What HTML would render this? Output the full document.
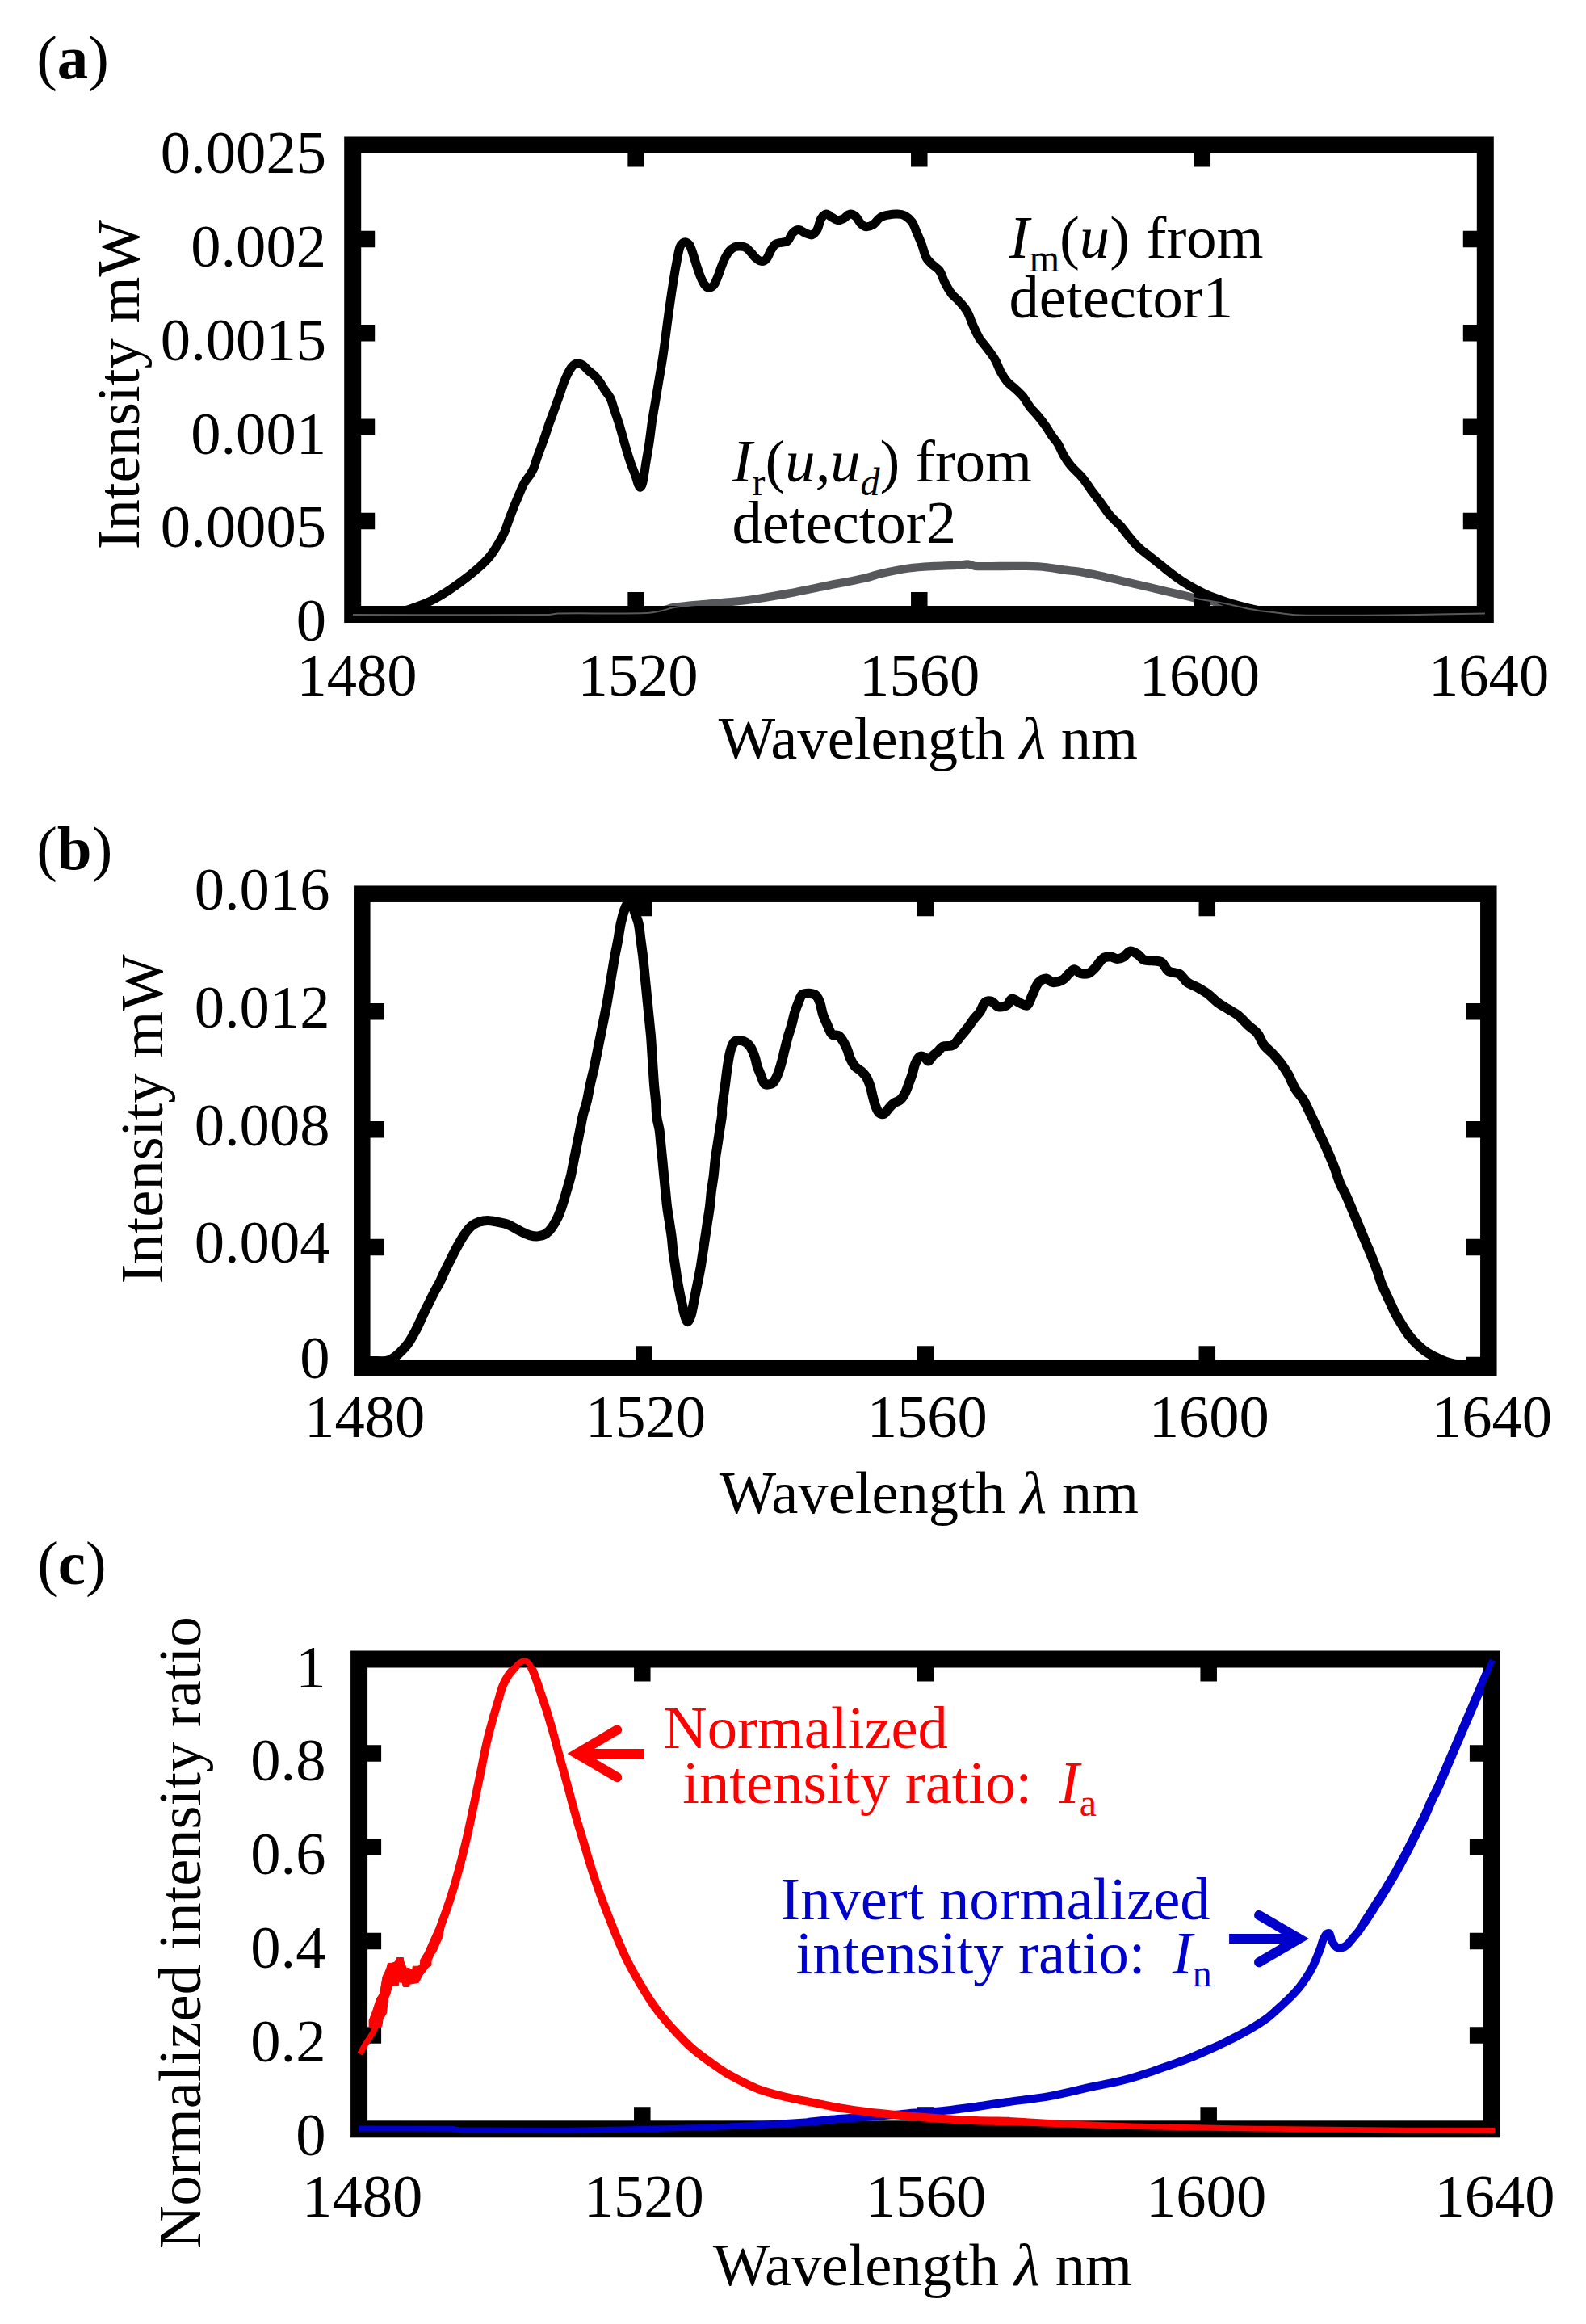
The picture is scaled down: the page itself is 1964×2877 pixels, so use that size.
<!DOCTYPE html>
<html lang="en"><head><meta charset="utf-8"><title>Figure</title>
<style>html,body{margin:0;padding:0;background:#fff}svg{display:block}text{font-family:"Liberation Serif","Times New Roman",serif;fill:#000}.i{font-style:italic}.b{font-weight:bold}</style>
</head><body>
<svg width="1964" height="2877" viewBox="0 0 1964 2877">
<rect width="1964" height="2877" fill="#fff"/>
<g id="panel-a">
<path d="M437.0 761.1C518.0 761.1 599.0 761.6 680.0 761.1C683.4 761.1 686.6 759.6 690.0 759.5C726.6 758.9 763.4 760.0 800.0 759.0C806.7 758.8 813.4 757.4 820.0 756.0C824.9 755.0 829.6 752.6 834.6 751.9C850.2 749.7 866.1 748.8 881.9 747.2C897.6 745.6 913.5 744.6 929.2 742.5C945.0 740.3 960.7 737.5 976.4 734.6C992.3 731.7 1008.0 728.3 1023.7 725.1C1039.5 722.0 1055.3 719.2 1071.0 715.7C1077.9 714.1 1084.6 711.5 1091.5 710.0C1102.7 707.5 1113.9 705.1 1125.2 703.5C1135.6 702.1 1146.2 701.6 1156.7 701.0C1167.2 700.4 1177.8 700.4 1188.3 699.7C1191.7 699.5 1195.1 698.1 1198.4 698.3C1201.4 698.5 1204.2 700.6 1207.2 700.8C1218.0 701.5 1229.1 700.9 1240.0 701.0C1255.4 701.1 1270.8 700.3 1286.1 701.3C1298.8 702.1 1311.3 704.7 1323.9 706.3C1329.3 707.0 1334.7 707.4 1340.0 708.3C1347.0 709.5 1353.9 711.0 1360.8 712.5C1367.8 714.0 1374.7 715.7 1381.6 717.3C1388.6 718.9 1395.5 720.6 1402.4 722.2C1409.4 723.8 1416.3 725.4 1423.2 727.0C1430.2 728.7 1437.1 730.3 1444.0 731.9C1451.0 733.5 1457.9 735.1 1464.8 736.7C1469.5 737.9 1474.1 739.2 1478.7 740.2C1483.3 741.3 1487.9 742.2 1492.6 743.0C1499.5 744.2 1506.5 745.1 1513.4 746.5C1520.4 747.8 1527.3 749.4 1534.2 750.9C1538.8 751.9 1543.4 753.1 1548.1 754.1C1552.0 754.9 1556.0 755.6 1560.0 756.2C1566.2 757.0 1572.5 757.6 1578.7 758.3C1587.1 759.3 1595.5 760.8 1604.0 761.2C1619.3 762.0 1634.7 761.8 1650.0 761.8C1673.3 761.9 1696.7 761.7 1720.0 761.5C1740.0 761.3 1760.0 760.8 1780.0 760.5C1799.7 760.2 1819.3 759.8 1839.0 759.5" fill="none" stroke="#57585b" stroke-width="10.3" stroke-linejoin="round"/>
<path d="M437.0 761.0C448.0 761.0 459.1 761.7 470.0 761.0C479.0 760.4 487.9 758.9 496.7 757.0C503.2 755.6 509.5 753.5 515.7 751.3C522.1 749.0 528.5 746.4 534.6 743.4C541.1 740.1 547.4 736.3 553.5 732.4C560.0 728.3 566.2 723.8 572.4 719.2C578.9 714.3 585.3 709.4 591.3 704.0C596.6 699.3 601.9 694.4 606.4 688.9C610.8 683.7 614.2 677.7 617.8 671.9C620.1 668.1 622.3 664.1 624.1 660.1C626.6 654.5 628.3 648.7 630.4 643.0C632.5 637.5 634.6 632.1 636.7 626.6C638.8 621.6 640.9 616.5 643.1 611.5C645.1 606.8 646.9 602.0 649.4 597.6C651.1 594.5 653.7 591.8 655.7 588.8C657.5 586.0 659.4 583.1 660.7 580.0C662.3 576.3 663.2 572.4 664.5 568.6C666.1 564.0 667.9 559.4 669.5 554.8C671.2 550.1 673.0 545.5 674.6 540.9C676.3 535.9 677.9 530.8 679.6 525.8C681.2 521.1 683.0 516.5 684.7 511.9C686.3 507.3 688.1 502.6 689.7 498.0C691.2 493.8 692.7 489.6 694.1 485.4C695.6 481.2 696.9 476.9 698.5 472.8C699.9 469.4 701.3 466.0 703.0 462.7C704.3 460.1 705.6 457.5 707.4 455.1C708.6 453.5 710.0 451.7 711.8 450.7C713.2 449.9 715.2 449.6 716.8 449.8C718.8 450.2 720.8 451.4 722.5 452.6C724.8 454.4 726.6 456.9 728.8 458.9C731.2 461.1 734.1 462.9 736.4 465.2C738.7 467.5 740.8 470.1 742.7 472.8C745.0 476.0 746.8 479.6 749.0 482.9C751.2 486.3 754.1 489.3 755.9 493.0C757.8 496.8 758.6 501.1 760.0 505.1C762.4 512.2 764.9 519.2 767.1 526.3C769.6 534.5 771.7 542.8 774.1 551.0C776.4 558.7 778.6 566.4 781.2 573.9C783.0 579.3 785.4 584.4 787.3 589.8C788.5 593.0 789.0 596.4 790.3 599.5C790.9 600.9 792.2 603.4 793.0 603.2C794.0 602.9 795.3 599.7 795.8 597.7C797.6 589.9 798.4 581.8 799.7 573.9C801.1 565.1 802.8 556.3 804.1 547.5C805.4 538.7 806.3 529.8 807.6 521.0C808.9 512.2 810.6 503.4 812.0 494.6C813.5 485.7 815.0 476.9 816.4 468.1C817.9 459.3 819.5 450.5 820.8 441.6C822.2 432.8 823.2 424.0 824.4 415.2C825.5 406.4 826.7 397.5 827.9 388.7C829.0 380.5 830.2 372.3 831.4 364.0C832.6 356.4 833.7 348.7 835.0 341.1C836.0 334.6 837.2 328.2 838.5 321.7C839.5 316.4 840.3 310.9 842.0 305.8C842.6 304.0 844.0 302.0 845.5 300.9C846.7 300.1 848.7 299.7 849.9 300.2C851.6 300.8 853.4 302.4 854.4 304.1C856.4 307.8 857.4 312.3 858.8 316.4C860.3 321.1 861.6 325.9 863.2 330.5C864.6 334.7 865.9 338.8 867.6 342.9C868.8 345.9 870.1 349.1 872.0 351.7C873.3 353.5 875.3 356.0 877.3 356.3C879.2 356.6 882.1 355.1 883.5 353.5C885.9 350.6 887.2 346.5 888.7 342.9C890.4 338.9 891.6 334.6 893.2 330.5C894.5 327.0 895.9 323.4 897.6 319.9C899.1 316.9 900.6 313.7 902.9 311.1C904.8 309.0 907.3 307.0 909.9 305.8C912.0 304.9 914.6 304.8 917.0 305.0C919.3 305.1 922.0 305.5 924.0 306.7C926.4 308.2 928.2 310.8 930.2 312.9C932.3 315.2 934.0 318.0 936.4 319.9C938.4 321.6 941.1 323.5 943.4 323.5C945.5 323.5 948.1 321.7 949.6 319.9C951.6 317.6 952.3 314.0 954.0 311.1C955.8 308.1 957.6 304.8 960.0 302.3C960.9 301.3 962.6 301.2 963.9 300.9C967.7 299.9 972.4 300.4 975.3 298.4C978.3 296.2 978.9 291.0 981.6 288.3C983.5 286.4 986.6 284.4 989.2 284.5C992.1 284.6 994.9 287.6 998.0 288.8C1000.4 289.7 1003.4 291.5 1005.5 290.8C1008.0 290.0 1010.4 287.0 1011.9 284.5C1014.2 280.3 1014.5 274.7 1016.9 270.6C1018.3 268.3 1020.9 265.3 1023.2 265.1C1025.6 264.9 1028.2 268.0 1030.8 269.4C1032.8 270.5 1034.9 272.4 1037.1 272.6C1039.5 272.9 1042.3 271.8 1044.6 270.6C1047.4 269.2 1049.5 265.5 1052.2 265.1C1054.6 264.7 1057.8 266.4 1059.8 268.1C1062.4 270.4 1063.6 274.4 1066.1 276.9C1067.8 278.6 1070.1 280.5 1072.4 280.7C1075.2 280.9 1078.7 279.8 1081.2 278.2C1084.6 276.0 1086.6 271.5 1090.0 269.4C1092.9 267.5 1096.7 266.8 1100.1 266.1C1103.8 265.3 1107.7 264.9 1111.5 265.1C1114.4 265.2 1117.7 265.5 1120.3 266.8C1123.6 268.6 1126.9 271.3 1129.1 274.4C1132.0 278.5 1133.4 283.6 1135.4 288.3C1137.6 293.3 1139.8 298.3 1141.7 303.4C1143.6 308.4 1144.4 313.9 1146.8 318.5C1148.2 321.4 1150.8 323.8 1153.1 326.1C1156.2 329.3 1160.6 331.4 1163.2 334.9C1166.3 339.2 1167.5 344.9 1170.0 349.7C1172.5 354.5 1175.1 359.3 1178.3 363.6C1181.1 367.2 1185.0 369.9 1188.0 373.3C1191.5 377.3 1195.2 381.2 1197.7 385.8C1200.7 390.9 1202.2 397.0 1204.7 402.4C1207.3 408.1 1209.8 413.8 1213.0 419.1C1215.8 423.5 1219.6 427.3 1222.7 431.6C1226.1 436.1 1229.6 440.5 1232.4 445.4C1235.2 450.3 1236.7 455.8 1239.4 460.7C1241.8 465.1 1244.4 469.4 1247.7 473.2C1250.4 476.4 1254.3 478.6 1257.4 481.5C1260.7 484.6 1264.2 487.7 1267.1 491.2C1270.2 495.1 1272.4 499.7 1275.4 503.7C1278.4 507.6 1282.0 511.0 1285.1 514.8C1288.5 518.8 1291.8 523.0 1294.8 527.3C1297.4 530.8 1299.3 534.8 1301.8 538.4C1304.4 542.2 1307.7 545.5 1310.1 549.5C1312.8 553.9 1314.5 558.9 1317.0 563.3C1319.5 567.7 1322.2 572.0 1325.4 575.8C1329.8 581.2 1335.5 585.7 1340.0 591.1C1344.0 595.9 1347.4 601.3 1351.1 606.4C1355.2 611.9 1359.5 617.4 1363.6 623.0C1367.3 628.1 1370.6 633.5 1374.7 638.3C1378.5 642.7 1383.2 646.4 1387.2 650.7C1391.1 655.2 1394.4 660.1 1398.3 664.6C1401.8 668.9 1405.3 673.3 1409.4 677.1C1413.6 681.2 1418.6 684.5 1423.2 688.2C1427.9 691.9 1432.5 695.6 1437.1 699.3C1441.7 703.0 1446.2 706.8 1451.0 710.4C1455.5 713.8 1460.1 717.0 1464.8 720.1C1469.4 723.0 1474.0 725.8 1478.7 728.4C1483.2 730.9 1487.9 733.2 1492.6 735.4C1497.1 737.4 1501.8 739.2 1506.5 740.9C1511.0 742.6 1515.7 744.3 1520.3 745.8C1524.9 747.3 1529.5 748.6 1534.2 749.9C1538.8 751.2 1543.4 752.3 1548.1 753.4C1552.0 754.3 1556.0 755.5 1560.0 755.9C1573.3 757.3 1586.6 758.3 1600.0 759.0C1620.0 760.0 1640.0 760.8 1660.0 761.0C1719.7 761.5 1779.3 761.0 1839.0 761.0" fill="none" stroke="#000" stroke-width="11" stroke-linejoin="round" stroke-linecap="round"/>
<rect x="436.7" y="179" width="1402.6" height="581.5" fill="none" stroke="#000" stroke-width="21"/>
<path d="M787.6 179v27.5M787.6 760.5v-27.5" stroke="#000" stroke-width="20.5" fill="none"/>
<path d="M1138.3 179v27.5M1138.3 760.5v-27.5" stroke="#000" stroke-width="20.5" fill="none"/>
<path d="M1488.8 179v27.5M1488.8 760.5v-27.5" stroke="#000" stroke-width="20.5" fill="none"/>
<path d="M436.7 295.9h27.5M1839.3 295.9h-27.5" stroke="#000" stroke-width="20.5" fill="none"/>
<path d="M436.7 412.3h27.5M1839.3 412.3h-27.5" stroke="#000" stroke-width="20.5" fill="none"/>
<path d="M436.7 528.7h27.5M1839.3 528.7h-27.5" stroke="#000" stroke-width="20.5" fill="none"/>
<path d="M436.7 645.1h27.5M1839.3 645.1h-27.5" stroke="#000" stroke-width="20.5" fill="none"/>
<path d="M437.0 761.1C518.0 761.1 599.0 761.6 680.0 761.1C683.4 761.1 686.6 759.6 690.0 759.5C726.6 758.9 763.4 760.0 800.0 759.0C806.7 758.8 813.4 757.4 820.0 756.0C824.9 755.0 829.6 752.6 834.6 751.9C850.2 749.7 866.1 748.8 881.9 747.2C897.6 745.6 913.5 744.6 929.2 742.5C945.0 740.3 960.7 737.5 976.4 734.6C992.3 731.7 1008.0 728.3 1023.7 725.1C1039.5 722.0 1055.3 719.2 1071.0 715.7C1077.9 714.1 1084.6 711.5 1091.5 710.0C1102.7 707.5 1113.9 705.1 1125.2 703.5C1135.6 702.1 1146.2 701.6 1156.7 701.0C1167.2 700.4 1177.8 700.4 1188.3 699.7C1191.7 699.5 1195.1 698.1 1198.4 698.3C1201.4 698.5 1204.2 700.6 1207.2 700.8C1218.0 701.5 1229.1 700.9 1240.0 701.0C1255.4 701.1 1270.8 700.3 1286.1 701.3C1298.8 702.1 1311.3 704.7 1323.9 706.3C1329.3 707.0 1334.7 707.4 1340.0 708.3C1347.0 709.5 1353.9 711.0 1360.8 712.5C1367.8 714.0 1374.7 715.7 1381.6 717.3C1388.6 718.9 1395.5 720.6 1402.4 722.2C1409.4 723.8 1416.3 725.4 1423.2 727.0C1430.2 728.7 1437.1 730.3 1444.0 731.9C1451.0 733.5 1457.9 735.1 1464.8 736.7C1469.5 737.9 1474.1 739.2 1478.7 740.2C1483.3 741.3 1487.9 742.2 1492.6 743.0C1499.5 744.2 1506.5 745.1 1513.4 746.5C1520.4 747.8 1527.3 749.4 1534.2 750.9C1538.8 751.9 1543.4 753.1 1548.1 754.1C1552.0 754.9 1556.0 755.6 1560.0 756.2C1566.2 757.0 1572.5 757.6 1578.7 758.3C1587.1 759.3 1595.5 760.8 1604.0 761.2C1619.3 762.0 1634.7 761.8 1650.0 761.8C1673.3 761.9 1696.7 761.7 1720.0 761.5C1740.0 761.3 1760.0 760.8 1780.0 760.5C1799.7 760.2 1819.3 759.8 1839.0 759.5" fill="none" stroke="#57585b" stroke-width="2" stroke-linejoin="round"/>
<text x="45.2" y="97.3" font-size="77" text-anchor="start" >(<tspan class="b">a</tspan>)</text>
<text x="404" y="214.2" font-size="74.6" text-anchor="end" >0.0025</text>
<text x="404" y="330" font-size="74.6" text-anchor="end" >0.002</text>
<text x="404" y="445.6" font-size="74.6" text-anchor="end" >0.0015</text>
<text x="404" y="561.6" font-size="74.6" text-anchor="end" >0.001</text>
<text x="404" y="677.1" font-size="74.6" text-anchor="end" >0.0005</text>
<text x="404" y="793" font-size="74.6" text-anchor="end" >0</text>
<text x="442" y="861" font-size="74.6" text-anchor="middle" >1480</text>
<text x="790" y="861" font-size="74.6" text-anchor="middle" >1520</text>
<text x="1138.7" y="861" font-size="74.6" text-anchor="middle" >1560</text>
<text x="1485.4" y="861" font-size="74.6" text-anchor="middle" >1600</text>
<text x="1843.6" y="861" font-size="74.6" text-anchor="middle" >1640</text>
<text x="889.8" y="939.2" font-size="74.6" text-anchor="start" >Wavelength <tspan class="i">λ</tspan> nm</text>
<text transform="translate(171.7,476.2) rotate(-90)" font-size="74.6" text-anchor="middle" >Intensity mW</text>
<text x="1249.8" y="319.3" font-size="74.6"><tspan class="i">I</tspan><tspan font-size="48" dy="17">m</tspan><tspan dy="-17">(</tspan><tspan class="i">u</tspan>)<tspan dx="2"> from</tspan></text>
<text x="1249.5" y="393.4" font-size="74.6" text-anchor="start" >detector1</text>
<text x="906.7" y="596.2" font-size="74.6"><tspan class="i">I</tspan><tspan font-size="48" dy="17">r</tspan><tspan dy="-17">(</tspan><tspan class="i">u,u</tspan><tspan class="i" font-size="48" dy="17">d</tspan><tspan dy="-17">) from</tspan></text>
<text x="906.5" y="671.8" font-size="74.6" text-anchor="start" >detector2</text>
</g>
<g id="panel-b">
<path d="M448.0 1685.3C451.6 1685.2 455.3 1685.0 458.9 1684.9C465.2 1684.8 471.7 1685.8 477.8 1684.9C481.4 1684.4 484.9 1682.4 487.9 1680.5C491.2 1678.5 494.0 1675.7 496.7 1672.9C499.9 1669.8 503.0 1666.5 505.6 1662.8C508.4 1658.9 510.8 1654.5 513.1 1650.2C515.4 1646.1 517.4 1641.9 519.4 1637.6C521.6 1633.0 523.6 1628.3 525.8 1623.8C527.8 1619.5 530.0 1615.4 532.1 1611.1C534.2 1606.9 536.2 1602.7 538.4 1598.5C540.4 1594.7 542.7 1591.1 544.7 1587.2C546.9 1582.6 548.8 1577.9 551.0 1573.3C553.0 1569.1 555.2 1564.9 557.3 1560.7C559.4 1556.5 561.4 1552.3 563.6 1548.1C565.6 1544.3 567.7 1540.5 569.9 1536.7C571.9 1533.3 573.9 1529.8 576.2 1526.7C578.5 1523.5 580.8 1520.3 583.8 1517.8C586.3 1515.7 589.4 1513.9 592.6 1512.8C596.2 1511.6 600.1 1510.9 603.9 1510.9C608.1 1510.9 612.4 1512.0 616.5 1512.8C620.8 1513.6 625.2 1514.3 629.2 1515.9C634.8 1518.3 639.9 1522.0 645.4 1524.7C649.1 1526.5 652.8 1528.4 656.7 1529.4C659.8 1530.2 663.1 1530.7 666.2 1530.4C669.4 1530.0 672.9 1529.2 675.7 1527.5C678.6 1525.7 681.1 1522.8 683.2 1520.0C686.2 1515.9 688.6 1511.3 690.8 1506.7C693.1 1501.9 694.8 1496.7 696.5 1491.6C698.5 1485.4 700.3 1479.0 702.1 1472.7C703.8 1467.0 705.5 1461.4 706.9 1455.7C708.3 1449.4 709.4 1443.0 710.6 1436.7C711.9 1430.4 713.2 1424.1 714.4 1417.8C715.7 1411.5 717.0 1405.2 718.2 1398.9C719.5 1392.6 720.5 1386.2 722.0 1380.0C723.3 1374.4 725.4 1369.1 726.7 1363.5C728.3 1356.9 729.2 1350.2 730.7 1343.5C732.1 1336.8 733.9 1330.2 735.4 1323.5C736.8 1316.8 738.0 1310.1 739.4 1303.5C740.7 1296.8 742.0 1290.1 743.4 1283.5C744.7 1276.8 746.0 1270.1 747.4 1263.4C748.7 1256.8 750.1 1250.1 751.4 1243.4C752.6 1236.8 753.6 1230.1 754.7 1223.4C755.8 1216.8 756.9 1210.1 758.0 1203.4C759.2 1196.7 760.2 1190.0 761.4 1183.4C762.6 1176.7 764.2 1170.1 765.4 1163.4C766.6 1156.7 767.3 1150.0 768.7 1143.4C770.0 1137.5 771.5 1131.7 773.4 1126.0C774.6 1122.6 776.3 1119.3 778.1 1116.0C778.8 1114.6 779.9 1111.9 780.7 1112.0C781.7 1112.1 782.9 1115.0 783.4 1116.7C784.4 1120.1 784.4 1123.9 785.4 1127.4C786.9 1132.8 789.5 1137.9 790.7 1143.4C792.2 1149.9 792.5 1156.7 793.4 1163.4C794.3 1170.1 795.3 1176.7 796.1 1183.4C796.8 1190.1 797.4 1196.7 798.1 1203.4C798.7 1210.1 799.4 1216.8 800.1 1223.4C800.7 1230.1 801.4 1236.8 802.1 1243.4C802.7 1250.1 803.4 1256.8 804.1 1263.4C804.7 1270.1 805.5 1276.8 806.1 1283.5C806.6 1290.1 807.0 1296.8 807.4 1303.5C807.8 1310.1 808.3 1316.8 808.7 1323.5C809.2 1330.2 809.5 1336.8 810.1 1343.5C810.6 1350.2 811.5 1356.8 812.1 1363.5C812.6 1370.2 812.6 1376.9 813.4 1383.5C814.1 1388.7 815.8 1393.7 816.6 1398.9C817.5 1405.2 817.8 1411.5 818.5 1417.8C819.1 1424.1 819.7 1430.4 820.4 1436.7C821.0 1443.0 821.6 1449.4 822.2 1455.7C822.9 1462.0 823.5 1468.3 824.1 1474.6C824.8 1480.9 825.2 1487.2 826.0 1493.5C826.8 1499.8 827.9 1506.1 828.9 1512.4C829.8 1518.7 830.9 1525.0 831.7 1531.3C832.5 1537.6 832.8 1543.9 833.6 1550.2C834.4 1556.6 835.5 1562.8 836.4 1569.1C837.4 1575.4 838.2 1581.8 839.3 1588.1C840.4 1594.4 841.7 1600.7 843.0 1607.0C844.2 1612.7 845.5 1618.4 846.8 1624.0C847.5 1626.9 848.2 1629.8 849.3 1632.5C849.8 1633.9 850.8 1636.3 851.6 1636.3C852.4 1636.3 853.4 1633.9 854.0 1632.5C855.0 1630.4 855.8 1628.2 856.3 1625.9C857.8 1619.6 858.8 1613.3 860.1 1607.0C861.3 1600.7 862.6 1594.4 863.9 1588.1C865.1 1581.8 866.5 1575.5 867.6 1569.1C868.7 1562.9 869.5 1556.5 870.5 1550.2C871.4 1543.9 872.4 1537.6 873.3 1531.3C874.3 1525.0 875.2 1518.7 876.1 1512.4C877.1 1506.1 878.2 1499.8 879.0 1493.5C879.8 1487.2 880.1 1480.9 880.9 1474.6C881.7 1468.2 882.9 1462.0 883.7 1455.7C884.5 1449.4 884.8 1443.0 885.6 1436.7C886.4 1430.4 887.5 1424.1 888.4 1417.8C889.4 1411.5 890.3 1405.2 891.3 1398.9C892.2 1392.6 893.5 1386.3 894.1 1380.0C894.4 1377.1 893.9 1374.2 894.2 1371.3C895.2 1361.8 896.7 1352.4 898.0 1342.9C899.2 1333.5 900.2 1324.0 901.8 1314.6C902.7 1308.8 903.7 1303.0 905.5 1297.5C906.6 1294.5 908.0 1290.9 910.3 1289.0C911.8 1287.8 914.7 1287.8 916.9 1288.1C919.5 1288.4 922.3 1289.4 924.4 1290.9C926.7 1292.6 928.7 1295.1 930.1 1297.5C932.2 1301.1 933.6 1305.0 934.9 1308.9C936.1 1312.6 936.5 1316.6 937.7 1320.2C939.0 1324.1 940.9 1327.8 942.4 1331.6C943.7 1334.7 944.3 1338.6 946.2 1341.1C947.1 1342.2 949.4 1342.7 950.9 1342.6C953.1 1342.4 956.0 1341.7 957.5 1340.1C960.1 1337.4 961.7 1333.3 963.2 1329.7C965.2 1324.8 966.5 1319.7 968.0 1314.6C969.4 1309.6 970.5 1304.5 971.7 1299.4C973.0 1294.4 974.1 1289.3 975.5 1284.3C976.9 1279.2 978.8 1274.3 980.2 1269.2C981.7 1264.2 982.5 1259.0 984.0 1254.0C985.4 1249.6 987.0 1245.1 988.8 1240.8C990.1 1237.6 991.1 1233.4 993.5 1231.3C995.5 1229.7 999.2 1229.7 1002.0 1229.8C1004.9 1230.0 1008.4 1230.6 1010.5 1232.3C1012.8 1234.2 1014.1 1237.8 1015.2 1240.8C1017.0 1245.7 1017.4 1251.0 1019.0 1255.9C1020.5 1260.5 1022.7 1264.8 1024.7 1269.2C1026.5 1273.0 1027.6 1277.9 1030.4 1280.5C1032.3 1282.3 1036.6 1280.9 1038.9 1282.4C1041.3 1284.1 1042.9 1287.3 1044.6 1290.0C1046.4 1293.0 1048.0 1296.2 1049.3 1299.4C1050.8 1303.1 1051.4 1307.2 1053.1 1310.8C1054.6 1314.1 1056.4 1317.5 1058.7 1320.2C1060.8 1322.6 1064.0 1323.8 1066.3 1325.9C1068.7 1328.2 1071.2 1330.6 1072.9 1333.5C1075.0 1337.0 1076.4 1341.0 1077.7 1344.8C1078.9 1348.5 1079.5 1352.4 1080.5 1356.2C1081.7 1360.6 1082.6 1365.2 1084.3 1369.4C1085.4 1372.4 1086.8 1376.0 1089.0 1377.9C1090.3 1379.1 1093.2 1379.7 1094.7 1378.9C1097.3 1377.5 1099.0 1373.8 1101.3 1371.3C1103.1 1369.4 1104.8 1367.2 1107.0 1365.6C1109.2 1364.0 1112.5 1363.6 1114.5 1361.9C1116.9 1359.9 1118.7 1357.0 1120.2 1354.3C1122.2 1350.7 1123.5 1346.8 1124.9 1342.9C1126.6 1338.6 1128.2 1334.2 1129.7 1329.7C1131.1 1325.3 1131.6 1320.6 1133.5 1316.5C1134.8 1313.4 1136.7 1309.6 1139.1 1308.0C1140.5 1307.0 1143.2 1308.0 1144.8 1308.9C1146.7 1309.9 1148.0 1313.9 1149.5 1313.6C1151.5 1313.3 1153.2 1309.1 1155.2 1307.0C1157.3 1305.0 1159.7 1303.3 1161.8 1301.3C1163.8 1299.5 1165.1 1296.6 1167.5 1295.7C1171.2 1294.1 1176.6 1295.8 1180.0 1293.8C1184.1 1291.3 1186.7 1286.2 1190.0 1282.3C1192.7 1279.2 1195.4 1276.1 1197.9 1272.8C1200.7 1269.3 1203.0 1265.4 1205.8 1261.8C1208.3 1258.6 1211.4 1255.7 1213.7 1252.4C1216.1 1248.7 1217.0 1243.3 1220.0 1240.7C1221.8 1239.1 1225.6 1239.0 1227.9 1239.7C1230.8 1240.7 1232.8 1245.3 1235.8 1246.1C1239.1 1246.9 1243.8 1246.1 1246.8 1244.5C1249.5 1243.0 1250.5 1237.1 1253.1 1236.6C1255.8 1236.1 1259.3 1240.0 1262.5 1241.3C1265.6 1242.6 1269.8 1245.8 1272.0 1244.5C1275.1 1242.6 1276.2 1236.1 1278.3 1231.9C1280.9 1226.6 1282.6 1220.4 1286.2 1216.1C1288.4 1213.5 1292.6 1211.4 1295.6 1211.4C1298.3 1211.4 1300.7 1215.9 1303.5 1216.1C1307.5 1216.4 1312.5 1214.9 1316.1 1213.0C1319.3 1211.3 1321.3 1207.5 1324.0 1205.1C1326.0 1203.3 1328.1 1200.3 1330.3 1200.3C1332.9 1200.3 1335.4 1204.3 1338.2 1205.1C1341.1 1205.9 1344.9 1206.1 1347.7 1205.1C1350.7 1204.0 1353.2 1201.2 1355.5 1198.8C1359.4 1194.8 1362.0 1189.1 1366.3 1186.2C1368.8 1184.4 1372.7 1184.4 1375.8 1184.6C1378.4 1184.7 1381.0 1187.1 1383.6 1187.1C1386.3 1187.1 1389.2 1186.0 1391.5 1184.6C1394.5 1182.8 1396.5 1178.2 1399.4 1177.6C1402.3 1177.1 1406.0 1179.7 1408.9 1181.4C1411.8 1183.2 1413.7 1187.1 1416.7 1188.4C1420.0 1189.7 1424.1 1188.8 1427.8 1189.3C1431.5 1189.8 1435.9 1189.6 1438.8 1191.5C1442.2 1193.8 1443.2 1199.6 1446.7 1201.9C1450.6 1204.5 1456.8 1203.6 1460.9 1206.0C1464.7 1208.3 1466.7 1213.4 1470.3 1216.1C1474.1 1218.9 1478.9 1220.1 1483.0 1222.4C1487.3 1224.8 1491.6 1227.3 1495.6 1230.3C1500.0 1233.6 1503.7 1238.0 1508.2 1241.3C1512.1 1244.3 1516.6 1246.6 1520.8 1249.2C1525.0 1251.8 1529.6 1254.0 1533.4 1257.1C1538.0 1260.8 1541.7 1265.6 1546.0 1269.7C1549.5 1273.0 1554.1 1275.4 1557.0 1279.2C1560.4 1283.3 1561.7 1289.1 1564.9 1293.3C1568.0 1297.5 1572.4 1300.6 1576.0 1304.4C1579.2 1307.9 1582.5 1311.5 1585.4 1315.4C1588.8 1319.9 1592.1 1324.7 1594.9 1329.6C1598.4 1335.7 1600.7 1342.5 1604.3 1348.5C1607.0 1353.0 1611.1 1356.6 1613.8 1361.1C1617.4 1367.1 1620.2 1373.7 1623.2 1380.0C1626.5 1386.8 1629.5 1393.7 1632.7 1400.5C1635.9 1407.4 1639.1 1414.1 1642.2 1421.0C1645.4 1428.3 1648.7 1435.6 1651.6 1443.1C1654.5 1450.4 1656.5 1458.0 1659.5 1465.2C1661.6 1470.3 1664.6 1475.0 1666.9 1480.0C1669.4 1485.4 1671.6 1490.9 1673.9 1496.4C1676.0 1501.4 1678.1 1506.5 1680.2 1511.5C1682.3 1516.6 1684.4 1521.6 1686.5 1526.7C1688.6 1531.7 1690.7 1536.7 1692.8 1541.8C1694.9 1546.8 1697.1 1551.8 1699.1 1556.9C1701.3 1562.4 1703.4 1567.8 1705.4 1573.3C1707.2 1578.3 1708.5 1583.5 1710.4 1588.4C1712.3 1593.2 1714.6 1597.7 1716.7 1602.3C1718.8 1606.9 1720.9 1611.6 1723.1 1616.2C1725.1 1620.4 1727.1 1624.7 1729.4 1628.8C1731.7 1633.1 1734.3 1637.3 1736.9 1641.4C1739.4 1645.3 1741.7 1649.2 1744.5 1652.8C1747.2 1656.3 1750.2 1659.7 1753.3 1662.8C1756.5 1666.0 1759.8 1669.0 1763.4 1671.7C1766.6 1674.0 1770.0 1676.0 1773.5 1678.0C1776.8 1679.8 1780.1 1681.5 1783.6 1683.0C1786.9 1684.5 1790.2 1685.8 1793.7 1686.8C1797.4 1687.9 1801.2 1688.8 1805.0 1689.3C1809.2 1689.9 1813.4 1690.2 1817.6 1690.3C1826.1 1690.7 1834.5 1690.8 1843.0 1691.0" fill="none" stroke="#000" stroke-width="12" stroke-linejoin="round" stroke-linecap="round"/>
<rect x="448.3" y="1106.7" width="1395.0" height="587.0" fill="none" stroke="#000" stroke-width="20.5"/>
<path d="M797.7 1106.7v27.5M797.7 1693.7v-27.5" stroke="#000" stroke-width="20.5" fill="none"/>
<path d="M1145.9 1106.7v27.5M1145.9 1693.7v-27.5" stroke="#000" stroke-width="20.5" fill="none"/>
<path d="M1494.8 1106.7v27.5M1494.8 1693.7v-27.5" stroke="#000" stroke-width="20.5" fill="none"/>
<path d="M448.3 1252.3h27.5M1843.3 1252.3h-27.5" stroke="#000" stroke-width="20.5" fill="none"/>
<path d="M448.3 1398.3h27.5M1843.3 1398.3h-27.5" stroke="#000" stroke-width="20.5" fill="none"/>
<path d="M448.3 1544.1h27.5M1843.3 1544.1h-27.5" stroke="#000" stroke-width="20.5" fill="none"/>
<path d="M448.3 1690h27.5M1843.3 1690h-27.5" stroke="#000" stroke-width="20.5" fill="none"/>
<text x="45.2" y="1075.5" font-size="77" text-anchor="start" >(<tspan class="b">b</tspan>)</text>
<text x="408.5" y="1126.1" font-size="74.6" text-anchor="end" >0.016</text>
<text x="408.5" y="1271.8" font-size="74.6" text-anchor="end" >0.012</text>
<text x="408.5" y="1417.5" font-size="74.6" text-anchor="end" >0.008</text>
<text x="408.5" y="1563.2" font-size="74.6" text-anchor="end" >0.004</text>
<text x="408.5" y="1706.3" font-size="74.6" text-anchor="end" >0</text>
<text x="451.7" y="1779.4" font-size="74.6" text-anchor="middle" >1480</text>
<text x="799.5" y="1779.4" font-size="74.6" text-anchor="middle" >1520</text>
<text x="1148.3" y="1779.4" font-size="74.6" text-anchor="middle" >1560</text>
<text x="1497.3" y="1779.4" font-size="74.6" text-anchor="middle" >1600</text>
<text x="1847.5" y="1779.4" font-size="74.6" text-anchor="middle" >1640</text>
<text x="890.8" y="1872.7" font-size="74.6" text-anchor="start" >Wavelength <tspan class="i">λ</tspan> nm</text>
<text transform="translate(201.3,1385.5) rotate(-90)" font-size="74.6" text-anchor="middle" >Intensity mW</text>
</g>
<g id="panel-c">
<rect x="444.6" y="2054" width="1402.8" height="581.8" fill="none" stroke="#000" stroke-width="21"/>
<path d="M795.3 2054v27.5M795.3 2635.8v-27.5" stroke="#000" stroke-width="20.5" fill="none"/>
<path d="M1146 2054v27.5M1146 2635.8v-27.5" stroke="#000" stroke-width="20.5" fill="none"/>
<path d="M1496.7 2054v27.5M1496.7 2635.8v-27.5" stroke="#000" stroke-width="20.5" fill="none"/>
<path d="M444.6 2170.4h27.5M1847.4 2170.4h-27.5" stroke="#000" stroke-width="20.5" fill="none"/>
<path d="M444.6 2286.7h27.5M1847.4 2286.7h-27.5" stroke="#000" stroke-width="20.5" fill="none"/>
<path d="M444.6 2403.1h27.5M1847.4 2403.1h-27.5" stroke="#000" stroke-width="20.5" fill="none"/>
<path d="M444.6 2519.4h27.5M1847.4 2519.4h-27.5" stroke="#000" stroke-width="20.5" fill="none"/>
<clipPath id="clipc"><path d="M455.7 2064.6H1837.3V2660H455.7V2548H473V2509.1H455.7Z"/></clipPath>
<path d="M444.0 2631.5L560.0 2631.8L570.0 2633.5L700.0 2633.9L794.6 2632.0L889.1 2629.6L964.8 2624.4L1001.0 2622.3L1001.0 2631.8L964.8 2633.9L889.1 2636.7L794.6 2639.6L700.0 2640.5L570.0 2640.3L560.0 2638.7L444.0 2638.5Z" fill="#0000cc"/>
<path d="M1000.0 2627.0C1012.6 2625.7 1025.2 2624.3 1037.8 2623.2C1050.4 2622.1 1063.1 2621.4 1075.7 2620.4C1088.3 2619.5 1100.9 2618.5 1113.5 2617.5C1119.8 2617.0 1126.1 2616.2 1132.4 2615.7C1145.0 2614.7 1157.6 2614.1 1170.2 2612.8C1182.8 2611.5 1195.4 2609.8 1208.0 2608.1C1220.7 2606.4 1233.3 2604.2 1245.9 2602.4C1263.9 2599.8 1282.1 2598.1 1300.0 2594.9C1318.1 2591.6 1336.0 2586.9 1354.0 2583.0C1362.6 2581.2 1371.4 2579.7 1380.0 2577.8C1386.3 2576.4 1392.6 2574.8 1398.9 2573.1C1405.3 2571.3 1411.6 2569.4 1417.8 2567.4C1424.2 2565.3 1430.4 2563.0 1436.7 2560.8C1443.0 2558.6 1449.4 2556.4 1455.7 2554.2C1462.0 2551.9 1468.3 2549.6 1474.6 2547.2C1480.9 2544.6 1487.2 2541.8 1493.5 2539.0C1499.8 2536.2 1506.2 2533.5 1512.4 2530.5C1518.8 2527.5 1525.1 2524.3 1531.3 2521.1C1537.7 2517.7 1544.1 2514.3 1550.2 2510.6C1556.7 2506.8 1563.1 2502.9 1569.1 2498.4C1574.5 2494.3 1579.3 2489.6 1584.3 2485.1C1588.8 2481.1 1593.3 2477.1 1597.5 2472.8C1601.5 2468.9 1605.3 2464.8 1608.9 2460.5C1612.3 2456.3 1615.4 2451.8 1618.3 2447.3C1621.1 2443.0 1623.6 2438.6 1625.9 2434.0C1628.0 2429.8 1629.7 2425.2 1631.6 2420.8C1633.0 2417.4 1634.3 2414.1 1635.6 2410.6C1636.7 2407.3 1637.4 2403.8 1638.7 2400.5C1639.7 2398.3 1640.8 2395.7 1642.5 2394.2C1643.4 2393.4 1645.6 2392.8 1646.3 2393.6C1647.9 2395.7 1647.9 2400.1 1649.4 2403.1C1650.9 2405.8 1652.7 2409.0 1655.1 2410.6C1656.7 2411.7 1659.4 2411.6 1661.4 2411.2C1663.6 2410.8 1666.0 2409.6 1667.7 2408.1C1670.6 2405.6 1672.8 2402.2 1675.3 2399.3C1677.8 2396.3 1680.6 2393.6 1682.8 2390.4C1685.2 2387.3 1687.0 2383.7 1689.2 2380.4C1691.6 2376.5 1694.3 2372.8 1696.7 2369.0C1699.4 2364.9 1701.8 2360.7 1704.5 2356.6C1706.9 2352.8 1709.6 2349.1 1712.0 2345.3C1714.6 2341.1 1717.1 2336.9 1719.6 2332.6C1722.1 2328.4 1724.7 2324.3 1727.2 2320.0C1729.8 2315.5 1732.2 2310.8 1734.7 2306.2C1737.3 2301.5 1739.9 2297.0 1742.3 2292.3C1744.9 2287.3 1747.3 2282.2 1749.9 2277.2C1752.4 2272.1 1754.9 2267.1 1757.4 2262.0C1759.9 2257.0 1762.6 2252.0 1765.0 2246.9C1767.7 2241.1 1769.9 2235.1 1772.6 2229.2C1774.9 2224.1 1777.8 2219.2 1780.1 2214.1C1782.8 2208.3 1785.2 2202.3 1787.7 2196.5C1790.2 2190.6 1792.7 2184.7 1795.3 2178.8C1797.8 2172.9 1800.3 2167.0 1802.8 2161.1C1805.3 2155.3 1807.9 2149.4 1810.4 2143.5C1812.9 2137.6 1815.4 2131.7 1818.0 2125.8C1820.5 2120.0 1823.0 2114.1 1825.5 2108.2C1828.0 2102.3 1830.6 2096.4 1833.1 2090.5C1835.6 2084.6 1838.1 2078.8 1840.7 2072.9C1843.2 2067.0 1845.7 2061.1 1848.2 2055.2" fill="none" stroke="#0000cc" stroke-width="10.2" stroke-linejoin="round" clip-path="url(#clipc)"/>
<path d="M1689.2 2380.4C1691.7 2376.6 1694.3 2372.8 1696.7 2369.0C1699.4 2364.9 1701.8 2360.7 1704.5 2356.6C1706.9 2352.8 1709.6 2349.1 1712.0 2345.3C1714.6 2341.1 1717.1 2336.9 1719.6 2332.6C1722.1 2328.4 1724.7 2324.3 1727.2 2320.0C1729.8 2315.5 1732.2 2310.8 1734.7 2306.2C1737.3 2301.5 1739.9 2297.0 1742.3 2292.3C1744.9 2287.3 1747.3 2282.2 1749.9 2277.2C1752.4 2272.1 1754.9 2267.1 1757.4 2262.0C1759.9 2257.0 1762.6 2252.0 1765.0 2246.9C1767.7 2241.1 1769.9 2235.1 1772.6 2229.2C1774.9 2224.1 1777.8 2219.2 1780.1 2214.1C1782.8 2208.3 1785.2 2202.3 1787.7 2196.5C1790.2 2190.6 1792.7 2184.7 1795.3 2178.8C1797.8 2172.9 1800.3 2167.0 1802.8 2161.1C1805.3 2155.3 1807.9 2149.4 1810.4 2143.5C1812.9 2137.6 1815.4 2131.7 1818.0 2125.8C1820.5 2120.0 1823.0 2114.1 1825.5 2108.2C1828.0 2102.3 1830.6 2096.4 1833.1 2090.5C1835.6 2084.6 1838.1 2078.8 1840.7 2072.9C1843.2 2067.0 1845.7 2061.1 1848.2 2055.2" fill="none" stroke="#0000cc" stroke-width="11.3" stroke-linejoin="round" stroke-linecap="round" clip-path="url(#clipc)"/>
<path d="M1000.0 2627.0C1012.6 2625.7 1025.2 2624.3 1037.8 2623.2C1050.4 2622.1 1063.1 2621.4 1075.7 2620.4C1088.3 2619.5 1100.9 2618.5 1113.5 2617.5C1119.8 2617.0 1126.1 2616.2 1132.4 2615.7C1145.0 2614.7 1157.6 2614.1 1170.2 2612.8C1182.8 2611.5 1195.4 2609.8 1208.0 2608.1C1220.7 2606.4 1233.3 2604.2 1245.9 2602.4C1263.9 2599.8 1282.1 2598.1 1300.0 2594.9C1318.1 2591.6 1336.0 2586.9 1354.0 2583.0C1362.6 2581.2 1371.4 2579.7 1380.0 2577.8C1386.3 2576.4 1392.6 2574.8 1398.9 2573.1C1405.3 2571.3 1411.6 2569.4 1417.8 2567.4C1424.2 2565.3 1430.4 2563.0 1436.7 2560.8C1443.0 2558.6 1449.4 2556.4 1455.7 2554.2C1462.0 2551.9 1468.3 2549.6 1474.6 2547.2C1480.9 2544.6 1487.2 2541.8 1493.5 2539.0C1499.8 2536.2 1506.2 2533.5 1512.4 2530.5C1518.8 2527.5 1525.1 2524.3 1531.3 2521.1C1537.7 2517.7 1544.1 2514.3 1550.2 2510.6C1556.7 2506.8 1563.1 2502.9 1569.1 2498.4C1574.5 2494.3 1579.3 2489.6 1584.3 2485.1C1588.8 2481.1 1593.3 2477.1 1597.5 2472.8C1601.5 2468.9 1605.3 2464.8 1608.9 2460.5C1612.3 2456.3 1615.4 2451.8 1618.3 2447.3C1621.1 2443.0 1623.6 2438.6 1625.9 2434.0C1628.0 2429.8 1629.7 2425.2 1631.6 2420.8C1633.0 2417.4 1634.3 2414.1 1635.6 2410.6C1636.7 2407.3 1637.4 2403.8 1638.7 2400.5C1639.7 2398.3 1640.8 2395.7 1642.5 2394.2C1643.4 2393.4 1645.6 2392.8 1646.3 2393.6C1647.9 2395.7 1647.9 2400.1 1649.4 2403.1C1650.9 2405.8 1652.7 2409.0 1655.1 2410.6C1656.7 2411.7 1659.4 2411.6 1661.4 2411.2C1663.6 2410.8 1666.0 2409.6 1667.7 2408.1C1670.6 2405.6 1672.8 2402.2 1675.3 2399.3C1677.8 2396.3 1680.6 2393.6 1682.8 2390.4C1685.2 2387.3 1687.0 2383.7 1689.2 2380.4C1691.6 2376.5 1694.3 2372.8 1696.7 2369.0C1699.4 2364.9 1701.8 2360.7 1704.5 2356.6C1706.9 2352.8 1709.6 2349.1 1712.0 2345.3C1714.6 2341.1 1717.1 2336.9 1719.6 2332.6C1722.1 2328.4 1724.7 2324.3 1727.2 2320.0C1729.8 2315.5 1732.2 2310.8 1734.7 2306.2C1737.3 2301.5 1739.9 2297.0 1742.3 2292.3C1744.9 2287.3 1747.3 2282.2 1749.9 2277.2C1752.4 2272.1 1754.9 2267.1 1757.4 2262.0C1759.9 2257.0 1762.6 2252.0 1765.0 2246.9C1767.7 2241.1 1769.9 2235.1 1772.6 2229.2C1774.9 2224.1 1777.8 2219.2 1780.1 2214.1C1782.8 2208.3 1785.2 2202.3 1787.7 2196.5C1790.2 2190.6 1792.7 2184.7 1795.3 2178.8C1797.8 2172.9 1800.3 2167.0 1802.8 2161.1C1805.3 2155.3 1807.9 2149.4 1810.4 2143.5C1812.9 2137.6 1815.4 2131.7 1818.0 2125.8C1820.5 2120.0 1823.0 2114.1 1825.5 2108.2C1828.0 2102.3 1830.6 2096.4 1833.1 2090.5C1835.6 2084.6 1838.1 2078.8 1840.7 2072.9C1843.2 2067.0 1845.7 2061.1 1848.2 2055.2" fill="none" stroke="#0000cc" stroke-width="7.2" stroke-linejoin="round"/>
<path d="M445.8 2542.7C447.9 2538.9 449.8 2535.0 452.1 2531.3C454.7 2527.0 457.7 2523.0 460.3 2518.7C461.7 2516.3 463.4 2513.8 464.3 2511.1C465.3 2507.9 465.2 2504.4 465.9 2501.1C466.8 2497.2 468.3 2493.5 469.3 2489.7C470.8 2484.5 472.1 2479.2 473.5 2473.9C475.2 2467.8 476.9 2461.8 478.5 2455.7C479.9 2450.6 480.7 2445.4 482.3 2440.5C483.0 2438.7 484.0 2436.7 485.5 2435.5C487.0 2434.2 489.4 2434.0 491.2 2433.0C492.7 2432.0 494.5 2428.6 495.3 2429.4C497.2 2431.2 497.9 2436.9 499.4 2440.5C500.3 2443.1 500.8 2446.9 502.5 2448.1C503.7 2449.0 506.4 2447.5 508.2 2446.8C510.8 2445.8 513.5 2444.7 515.8 2443.1C518.6 2440.9 521.1 2438.3 523.3 2435.5C525.8 2432.4 527.9 2429.0 529.6 2425.4C532.5 2419.3 534.7 2412.8 537.2 2406.5C540.6 2397.7 544.0 2388.9 547.3 2380.0C551.1 2369.5 554.9 2359.0 558.3 2348.4C562.0 2336.9 565.3 2325.4 568.4 2313.7C571.8 2301.2 574.9 2288.6 577.9 2275.9C581.0 2262.3 583.8 2248.6 586.7 2234.9C589.6 2221.3 592.4 2207.6 595.2 2193.9C598.0 2180.3 600.5 2166.5 603.7 2153.0C606.1 2142.8 609.0 2132.8 611.8 2122.7C613.5 2116.8 615.3 2110.9 617.1 2105.0C618.9 2099.1 620.1 2093.1 622.4 2087.4C624.2 2082.8 626.7 2078.3 629.4 2074.1C631.7 2070.6 634.6 2067.5 637.4 2064.4C639.3 2062.2 641.2 2059.8 643.5 2058.2C645.3 2057.0 647.7 2055.8 649.7 2056.0C651.6 2056.1 653.7 2057.6 655.0 2059.1C656.9 2061.3 658.1 2064.3 659.4 2067.1C661.1 2070.8 662.4 2074.7 663.8 2078.5C665.4 2082.9 666.8 2087.4 668.3 2091.8C669.8 2096.2 671.2 2100.6 672.7 2105.0C674.2 2109.4 675.7 2113.8 677.1 2118.3C678.3 2122.2 679.5 2126.1 680.6 2130.0C682.2 2135.5 683.8 2141.1 685.4 2146.6C688.6 2158.2 691.7 2169.8 694.8 2181.3C698.0 2192.9 701.1 2204.4 704.3 2216.0C707.4 2227.6 710.4 2239.2 713.7 2250.7C716.7 2261.2 720.0 2271.7 723.2 2282.2C726.3 2292.7 729.3 2303.3 732.6 2313.7C735.6 2323.2 738.8 2332.7 742.1 2342.1C745.1 2350.6 748.3 2359.0 751.6 2367.3C755.7 2377.9 759.8 2388.4 764.2 2398.9C768.2 2408.4 772.2 2418.0 776.8 2427.2C781.6 2436.9 787.1 2446.3 792.5 2455.6C797.6 2464.1 802.7 2472.7 808.3 2480.8C813.2 2487.9 818.6 2494.7 824.1 2501.3C829.1 2507.3 834.5 2513.0 839.8 2518.7C845.0 2524.0 850.1 2529.5 855.6 2534.4C860.6 2538.9 866.0 2543.0 871.4 2547.0C876.5 2550.9 881.8 2554.4 887.1 2558.1C891.4 2561.0 895.5 2564.3 900.0 2566.7C912.4 2573.5 924.8 2580.5 937.8 2585.7C950.0 2590.5 963.0 2593.4 975.7 2596.6C983.7 2598.7 991.9 2599.9 1000.0 2601.5C1012.6 2604.0 1025.1 2606.8 1037.8 2609.0C1050.4 2611.2 1063.0 2613.1 1075.7 2614.7C1088.3 2616.3 1100.9 2617.3 1113.5 2618.5C1123.0 2619.4 1132.4 2620.2 1141.9 2621.0C1151.3 2621.8 1160.8 2622.6 1170.2 2623.2C1182.8 2624.0 1195.4 2624.7 1208.0 2625.1C1222.0 2625.6 1236.0 2625.7 1250.0 2626.0" fill="none" stroke="#fe0000" stroke-width="10.3" stroke-linejoin="round" clip-path="url(#clipc)"/>
<path d="M445.8 2542.7C447.9 2538.9 449.8 2535.0 452.1 2531.3C454.7 2527.0 457.7 2523.0 460.3 2518.7C461.7 2516.3 463.4 2513.8 464.3 2511.1C465.3 2507.9 465.2 2504.4 465.9 2501.1C466.8 2497.2 468.3 2493.5 469.3 2489.7C470.8 2484.5 472.1 2479.2 473.5 2473.9C475.2 2467.8 476.9 2461.8 478.5 2455.7C479.9 2450.6 480.7 2445.4 482.3 2440.5C483.0 2438.7 484.0 2436.7 485.5 2435.5C487.0 2434.2 489.4 2434.0 491.2 2433.0C492.7 2432.0 494.5 2428.6 495.3 2429.4C497.2 2431.2 497.9 2436.9 499.4 2440.5C500.3 2443.1 500.8 2446.9 502.5 2448.1C503.7 2449.0 506.4 2447.5 508.2 2446.8C510.8 2445.8 513.5 2444.7 515.8 2443.1C518.6 2440.9 521.1 2438.3 523.3 2435.5C525.8 2432.4 527.9 2429.0 529.6 2425.4C532.5 2419.3 534.7 2412.8 537.2 2406.5C540.6 2397.7 544.0 2388.9 547.3 2380.0C551.1 2369.5 554.9 2359.0 558.3 2348.4C562.0 2336.9 565.3 2325.4 568.4 2313.7C571.8 2301.2 574.9 2288.6 577.9 2275.9C581.0 2262.3 583.8 2248.6 586.7 2234.9C589.6 2221.3 592.4 2207.6 595.2 2193.9C598.0 2180.3 600.5 2166.5 603.7 2153.0C606.1 2142.8 609.0 2132.8 611.8 2122.7C613.5 2116.8 615.3 2110.9 617.1 2105.0C618.9 2099.1 620.1 2093.1 622.4 2087.4C624.2 2082.8 626.7 2078.3 629.4 2074.1C631.7 2070.6 634.6 2067.5 637.4 2064.4C639.3 2062.2 641.2 2059.8 643.5 2058.2C645.3 2057.0 647.7 2055.8 649.7 2056.0C651.6 2056.1 653.7 2057.6 655.0 2059.1C656.9 2061.3 658.1 2064.3 659.4 2067.1C661.1 2070.8 662.4 2074.7 663.8 2078.5C665.4 2082.9 666.8 2087.4 668.3 2091.8C669.8 2096.2 671.2 2100.6 672.7 2105.0C674.2 2109.4 675.7 2113.8 677.1 2118.3C678.3 2122.2 679.5 2126.1 680.6 2130.0C682.2 2135.5 683.8 2141.1 685.4 2146.6C688.6 2158.2 691.7 2169.8 694.8 2181.3C698.0 2192.9 701.1 2204.4 704.3 2216.0C707.4 2227.6 710.4 2239.2 713.7 2250.7C716.7 2261.2 720.0 2271.7 723.2 2282.2C726.3 2292.7 729.3 2303.3 732.6 2313.7C735.6 2323.2 738.8 2332.7 742.1 2342.1C745.1 2350.6 748.3 2359.0 751.6 2367.3C755.7 2377.9 759.8 2388.4 764.2 2398.9C768.2 2408.4 772.2 2418.0 776.8 2427.2C781.6 2436.9 787.1 2446.3 792.5 2455.6C797.6 2464.1 802.7 2472.7 808.3 2480.8C813.2 2487.9 818.6 2494.7 824.1 2501.3C829.1 2507.3 834.5 2513.0 839.8 2518.7C845.0 2524.0 850.1 2529.5 855.6 2534.4C860.6 2538.9 866.0 2543.0 871.4 2547.0C876.5 2550.9 881.8 2554.4 887.1 2558.1C891.4 2561.0 895.5 2564.3 900.0 2566.7C912.4 2573.5 924.8 2580.5 937.8 2585.7C950.0 2590.5 963.0 2593.4 975.7 2596.6C983.7 2598.7 991.9 2599.9 1000.0 2601.5C1012.6 2604.0 1025.1 2606.8 1037.8 2609.0C1050.4 2611.2 1063.0 2613.1 1075.7 2614.7C1088.3 2616.3 1100.9 2617.3 1113.5 2618.5C1123.0 2619.4 1132.4 2620.2 1141.9 2621.0C1151.3 2621.8 1160.8 2622.6 1170.2 2623.2C1182.8 2624.0 1195.4 2624.7 1208.0 2625.1C1222.0 2625.6 1236.0 2625.7 1250.0 2626.0" fill="none" stroke="#fe0000" stroke-width="7.4" stroke-linejoin="round"/>
<path d="M1249.0 2620.9L1325.7 2625.4L1401.3 2628.4L1552.7 2631.8L1741.9 2633.7L1851.0 2634.0L1851.0 2640.7L1741.9 2640.5L1552.7 2638.6L1401.3 2636.0L1325.7 2633.7L1249.0 2631.1Z" fill="#fe0000"/>
<path d="M457.1 2501.1L461.5 2489.7L466.6 2473.9L470.4 2468.3L474.1 2446.8L478.5 2438.0L480.4 2430.4L491.2 2430.4L491.2 2423.5L499.4 2423.5L499.6 2436.1L506.9 2436.7L510.7 2438.6L511.3 2434.2L520.2 2434.2L520.8 2426.0L526.5 2416.6L530.9 2406.5L537.2 2392.6L544.1 2380.0L551.1 2380.0L547.5 2398.9L544.1 2406.5L539.7 2416.6L534.0 2424.1L534.0 2433.0L530.3 2435.5L525.8 2441.8L522.7 2445.6L518.3 2454.4L506.9 2456.3L506.9 2459.4L499.4 2459.4L498.1 2454.4L493.7 2453.8L493.7 2457.6L485.5 2458.2L483.0 2468.3L480.4 2474.6L478.5 2492.2L474.1 2499.8L472.9 2507.4L471.6 2509.9L457.1 2509.9Z" fill="#fe0000" stroke="#fe0000" stroke-width="1" stroke-linejoin="round"/>
<path d="M798 2171H712" stroke="#fe0000" stroke-width="12" fill="none"/>
<path d="M764.2 2141.5L714.3 2170.9L764.2 2200.2" stroke="#fe0000" stroke-width="12" fill="none" stroke-linecap="round" stroke-linejoin="miter"/>
<path d="M1522.1 2400H1611" stroke="#0000cc" stroke-width="11.8" fill="none"/>
<path d="M1559 2370.9L1609 2400L1559 2429.3" stroke="#0000cc" stroke-width="12" fill="none" stroke-linecap="round" stroke-linejoin="miter"/>
<text x="46.2" y="1961.3" font-size="77" text-anchor="start" >(<tspan class="b">c</tspan>)</text>
<text x="403.5" y="2088.5" font-size="74.6" text-anchor="end" >1</text>
<text x="403.5" y="2204.2" font-size="74.6" text-anchor="end" >0.8</text>
<text x="403.5" y="2319.8" font-size="74.6" text-anchor="end" >0.6</text>
<text x="403.5" y="2436.4" font-size="74.6" text-anchor="end" >0.4</text>
<text x="403.5" y="2551.5" font-size="74.6" text-anchor="end" >0.2</text>
<text x="403.5" y="2668.2" font-size="74.6" text-anchor="end" >0</text>
<text x="448.7" y="2744.3" font-size="74.6" text-anchor="middle" >1480</text>
<text x="797.3" y="2744.3" font-size="74.6" text-anchor="middle" >1520</text>
<text x="1146.6" y="2744.3" font-size="74.6" text-anchor="middle" >1560</text>
<text x="1493.6" y="2744.3" font-size="74.6" text-anchor="middle" >1600</text>
<text x="1851" y="2744.3" font-size="74.6" text-anchor="middle" >1640</text>
<text x="882.7" y="2828.5" font-size="74.6" text-anchor="start" >Wavelength <tspan class="i">λ</tspan> nm</text>
<text transform="translate(247.7,2392.8) rotate(-90)" font-size="74.6" text-anchor="middle" >Normalized intensity ratio</text>
<text x="821.8" y="2163.9" font-size="74.6" text-anchor="start" style="fill:#fe0000">Normalized</text>
<text x="845.3" y="2232.3" font-size="74.6" style="fill:#fe0000">intensity ratio:  <tspan class="i" x="1311.8">I</tspan><tspan font-size="48" dy="15.4">a</tspan></text>
<text x="966.3" y="2375.7" font-size="74.6" text-anchor="start" style="fill:#0000cc">Invert normalized</text>
<text x="985.5" y="2442.8" font-size="74.6" style="fill:#0000cc">intensity ratio:  <tspan class="i" x="1451.8">I</tspan><tspan font-size="48" dy="16.2">n</tspan></text>
</g>
</svg></body></html>
